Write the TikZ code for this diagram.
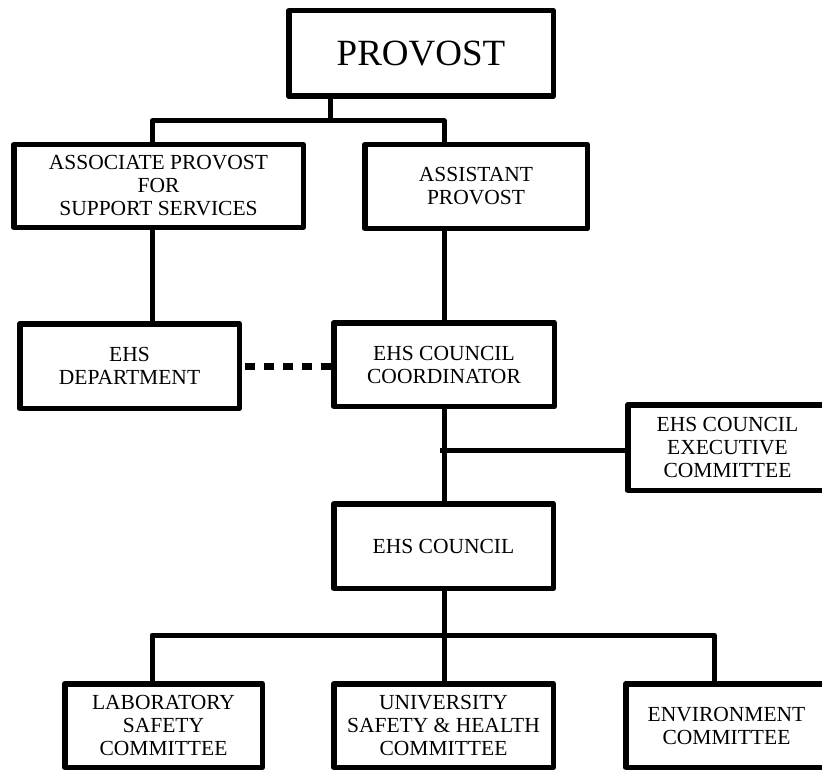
\documentclass[tikz,border=0pt]{standalone}
\usepackage{fontspec}
\setmainfont{Liberation Serif}
\usepackage{tikz}

\begin{document}
\begin{tikzpicture}[x=1pt, y=-1pt, line join=round,
    unit/.style={rectangle, draw, line width=5.5pt, align=center, inner sep=0pt,
        font=\fontsize{21.5}{23}\selectfont},
    link/.style={line width=5pt}]
    \useasboundingbox (0,0) rectangle (822,773);

    % Nodes
    \node (Provost) [unit, minimum width=264.5pt, minimum height=85.5pt,
        font=\fontsize{37}{40}\selectfont] at (421,53.5) {PROVOST};
    \node (Assoc) [unit, minimum width=289.5pt, minimum height=82.5pt] at (158.5,186)
        {ASSOCIATE PROVOST\\FOR\\SUPPORT SERVICES};
    \node (Asst) [unit, minimum width=222.5pt, minimum height=83.5pt] at (476,186.5)
        {ASSISTANT\\PROVOST};
    \node (Dept) [unit, minimum width=219.5pt, minimum height=84.5pt] at (129.5,366)
        {EHS\\DEPARTMENT};
    \node (Coord) [unit, minimum width=220.5pt, minimum height=83.5pt] at (444,364.5)
        {EHS COUNCIL\\COORDINATOR};
    \node (Exec) [unit, minimum width=199.5pt, minimum height=85.5pt] at (727.5,447.5)
        {EHS COUNCIL\\EXECUTIVE\\COMMITTEE};
    \node (Council) [unit, minimum width=219.5pt, minimum height=84.5pt] at (443.5,546)
        {EHS COUNCIL};
    \node (Lab) [unit, minimum width=197.5pt, minimum height=83.5pt] at (163.5,725.5)
        {LABORATORY\\SAFETY\\COMMITTEE};
    \node (Univ) [unit, minimum width=219.5pt, minimum height=83.5pt] at (443.5,725.5)
        {UNIVERSITY\\SAFETY \& HEALTH\\COMMITTEE};
    \node (Env) [unit, minimum width=201.5pt, minimum height=83.5pt] at (726.5,725.5)
        {ENVIRONMENT\\COMMITTEE};

    % Junctions
    \coordinate (jP) at (330,121);
    \coordinate (jA) at (152,121);
    \coordinate (jB) at (444,121);
    \coordinate (jE) at (440,450);
    \coordinate (jL) at (152,635);
    \coordinate (jR) at (714,635);

    \draw [link] (jP |- Provost.south) -- (jP);
    \draw [link] (jA |- Assoc.north) -- (jA) -- (jB) -- (jB |- Asst.north);
    \draw [link] (jA |- Assoc.south) -- (jA |- Dept.north);
    \draw [link] (jB |- Asst.south) -- (jB |- Coord.north);
    \draw [line width=7pt, dash pattern=on 10pt off 9pt]
        ([xshift=3pt]Dept.east) -- (Dept.east -| Coord.west);
    \draw [link] (jB |- Coord.south) -- (jB |- Council.north);
    \draw [link] (jE) -- (jE -| Exec.west);
    \draw [link] (jB |- Council.south) -- (jB |- Univ.north);
    \draw [link] (jL |- Lab.north) -- (jL) -- (jR) -- (jR |- Env.north);

\end{tikzpicture}
\end{document}
